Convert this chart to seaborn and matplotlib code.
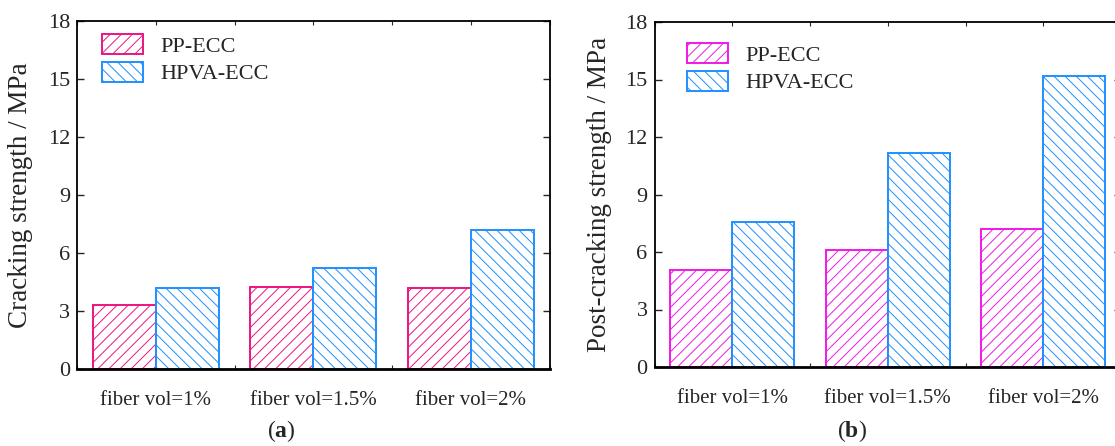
import matplotlib
matplotlib.use("Agg")
import matplotlib.pyplot as plt
import seaborn as sns
import pandas as pd
from matplotlib.patches import Patch
from matplotlib.ticker import MultipleLocator

categories = ["fiber vol=1%", "fiber vol=1.5%", "fiber vol=2%"]
series = ["PP-ECC", "HPVA-ECC"]
cracking_pp = [3.3, 4.25, 4.2]
cracking_hpva = [4.2, 5.22, 7.2]
post_pp = [5.05, 6.1, 7.2]
post_hpva = [7.58, 11.15, 15.18]
yticks = [0, 3, 6, 9, 12, 15, 18]

sns.set_theme(style="ticks")
plt.rcParams["font.family"] = ["Liberation Serif", "DejaVu Serif"]
plt.rcParams["mathtext.fontset"] = "custom"
plt.rcParams["mathtext.rm"] = "Liberation Serif"
plt.rcParams["mathtext.bf"] = "Liberation Serif:bold"
plt.rcParams["hatch.linewidth"] = 0.7

fig = plt.figure(figsize=(11.15, 4.46), dpi=100)
W, H = 1115, 446
ax1 = fig.add_axes([77 / W, (H - 369) / H, 472.5 / W, 348 / H])
ax2 = fig.add_axes([654.5 / W, (H - 367) / H, 466.5 / W, 345 / H])

HATCH_PP = "///"
HATCH_HP = "\\\\\\"


def make_df(pp, hpva):
    return pd.DataFrame({
        "cat": categories * 2,
        "series": [series[0]] * 3 + [series[1]] * 3,
        "val": list(pp) + list(hpva),
    })


def draw(ax, pp, hpva, pcol, bcol, ylabel, tag, tagx, leg_anchor, label_x):
    df = make_df(pp, hpva)
    sns.barplot(data=df, x="cat", y="val", hue="series", hue_order=series,
                order=categories, palette=[pcol, bcol], width=0.8, gap=0,
                ax=ax, legend=False, errorbar=None)
    cols = {0: pcol, 1: bcol}
    hatches = {0: HATCH_PP, 1: HATCH_HP}
    for i, bar in enumerate(ax.patches):
        k = 0 if i < 3 else 1
        bar.set_facecolor("white")
        bar.set_edgecolor(cols[k])
        bar.set_hatch(hatches[k])
        bar.set_linewidth(1.4)
    ax.set_xlim(-0.5, 2.5)
    ax.set_ylim(0, 18)
    ax.set_yticks(yticks)
    ax.set_xticks(range(3))
    ax.set_xticklabels(categories, fontsize=15)
    ax.xaxis.set_minor_locator(MultipleLocator(0.5))
    ax.tick_params(axis="x", which="both", direction="in", top=True, bottom=True,
                   length=3, width=0.8, pad=16)
    ax.tick_params(axis="y", which="both", direction="in", left=True, right=True,
                   length=5, width=1.0, labelsize=16, pad=5)
    ax.set_xlabel("")
    ax.set_ylabel(ylabel, fontsize=19.5)
    ax.yaxis.set_label_coords(label_x, 0.5)
    for s in ax.spines.values():
        s.set_linewidth(1.3)
        s.set_color("black")
    ax.spines["bottom"].set_linewidth(2.0)
    handles = [Patch(facecolor="white", edgecolor=pcol, hatch=HATCH_PP, linewidth=1.4, label=series[0]),
               Patch(facecolor="white", edgecolor=bcol, hatch=HATCH_HP, linewidth=1.4, label=series[1])]
    ax.legend(handles=handles, loc="upper left", frameon=False, fontsize=16,
              handlelength=1.85, handleheight=1.0, handletextpad=0.77,
              labelspacing=0.22, borderaxespad=0.5, bbox_to_anchor=leg_anchor)
    fig.text(tagx / W, 1 - 431 / H, r"($\mathbf{" + tag + r"}$)", ha="center", va="center",
             fontsize=17)


draw(ax1, cracking_pp, cracking_hpva, "#EE1480", "#1E8FFF",
     "Cracking strength / MPa", "a", 281, (0.0107, 1.0195), -0.093)
draw(ax2, post_pp, post_hpva, "#F018E8", "#1E8FFF",
     "Post-cracking strength / MPa", "b", 852, (0.027, 0.9966), -0.091)

fig.savefig("out.png", dpi=100)
